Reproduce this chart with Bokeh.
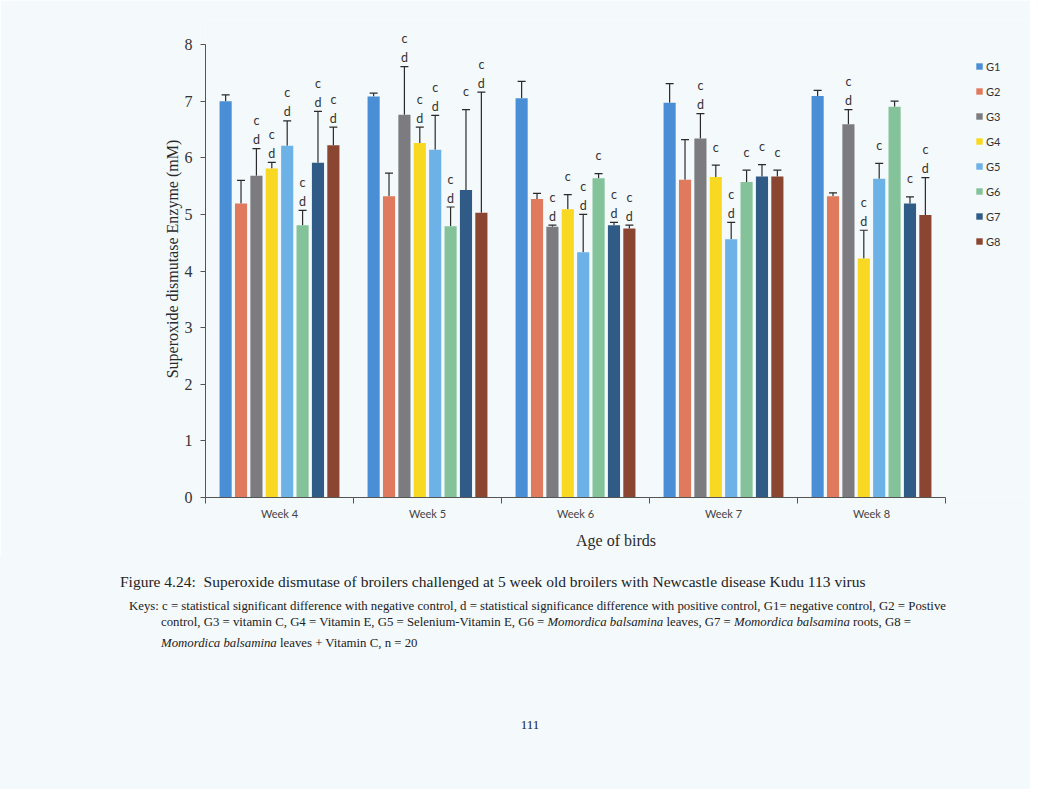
from bokeh.plotting import figure
from bokeh.layouts import column
from bokeh.models import (ColumnDataSource, Whisker, TeeHead, FixedTicker, Range1d,
                          Legend, LegendItem, Div)
from bokeh.core.properties import value
from bokeh.embed import file_html
from bokeh.resources import INLINE

# ---------------- data ----------------
weeks = ["Week 4", "Week 5", "Week 6", "Week 7", "Week 8"]
groups = ["G1", "G2", "G3", "G4", "G5", "G6", "G7", "G8"]
colors = ["#4a8fd6", "#e07a5e", "#7c7c80", "#f8d820", "#6cb2e6", "#84c39a", "#2f5b86", "#8a4630"]

g1_vals = [7.00, 7.08, 7.05, 6.97, 7.09]
g2_vals = [5.19, 5.32, 5.27, 5.61, 5.32]
g3_vals = [5.68, 6.76, 4.78, 6.34, 6.59]
g4_vals = [5.81, 6.26, 5.09, 5.66, 4.22]
g5_vals = [6.21, 6.14, 4.33, 4.56, 5.63]
g6_vals = [4.81, 4.79, 5.64, 5.57, 6.90]
g7_vals = [5.91, 5.43, 4.81, 5.67, 5.19]
g8_vals = [6.22, 5.03, 4.75, 5.67, 4.99]

g1_err = [0.11, 0.06, 0.30, 0.34, 0.10]
g2_err = [0.41, 0.41, 0.10, 0.71, 0.06]
g3_err = [0.48, 0.85, 0.03, 0.44, 0.26]
g4_err = [0.11, 0.28, 0.26, 0.21, 0.50]
g5_err = [0.44, 0.61, 0.67, 0.30, 0.27]
g6_err = [0.26, 0.34, 0.08, 0.21, 0.10]
g7_err = [0.91, 1.42, 0.05, 0.21, 0.12]
g8_err = [0.32, 2.13, 0.06, 0.11, 0.66]

g1_sig = ["", "", "", "", ""]
g2_sig = ["", "", "", "", ""]
g3_sig = ["cd", "cd", "cd", "cd", "cd"]
g4_sig = ["cd", "cd", "c", "c", "cd"]
g5_sig = ["cd", "cd", "cd", "cd", "c"]
g6_sig = ["cd", "cd", "c", "c", ""]
g7_sig = ["cd", "c", "cd", "c", "c"]
g8_sig = ["cd", "cd", "cd", "c", "cd"]

y_ticks = [0, 1, 2, 3, 4, 5, 6, 7, 8]
y_max = 8

all_vals = [g1_vals, g2_vals, g3_vals, g4_vals, g5_vals, g6_vals, g7_vals, g8_vals]
all_err = [g1_err, g2_err, g3_err, g4_err, g5_err, g6_err, g7_err, g8_err]
all_sig = [g1_sig, g2_sig, g3_sig, g4_sig, g5_sig, g6_sig, g7_sig, g8_sig]

# ---------------- main figure ----------------
BG = "#f4f9fb"
PX_PER_CAT = 148.0
PX_PER_UNIT = 453.0 / 8
FRAME_W = 825
FRAME_H = 477
x_end = -0.5 + FRAME_W / PX_PER_CAT
y_end = FRAME_H / PX_PER_UNIT

p = figure(width=1030, height=557, frame_width=FRAME_W, frame_height=FRAME_H,
           min_border_left=205, min_border_right=0, min_border_top=20, min_border_bottom=60,
           x_range=Range1d(-0.5, x_end), y_range=Range1d(0, y_end),
           output_backend="svg", toolbar_location=None,
           background_fill_color=BG, border_fill_color=BG)
p.outline_line_color = None
p.grid.visible = False

pitch = 0.104
bar_w = 0.082
n = len(groups)

legend_items = []
c_cd = dict(x=[], y=[])
c_only = dict(x=[], y=[])
d_cd = dict(x=[], y=[])
for gi, g in enumerate(groups):
    xs = [wi + (gi - (n - 1) / 2) * pitch for wi in range(len(weeks))]
    tops = all_vals[gi]
    uppers = [v + e for v, e in zip(all_vals[gi], all_err[gi])]
    src = ColumnDataSource(dict(x=xs, top=tops, upper=uppers))
    r = p.vbar(x="x", top="top", width=bar_w, bottom=0, source=src,
               fill_color=colors[gi], line_color=None)
    legend_items.append(LegendItem(label=g, renderers=[r]))
    w = Whisker(base="x", lower="top", upper="upper", source=src, dimension="height",
                line_color="#2a2a2a", line_width=1.2,
                upper_head=TeeHead(size=8, line_color="#2a2a2a", line_width=1.2),
                lower_head=None)
    p.add_layout(w)
    for x, u, s in zip(xs, uppers, all_sig[gi]):
        if s == "cd":
            c_cd["x"].append(x); c_cd["y"].append(u)
            d_cd["x"].append(x); d_cd["y"].append(u)
        elif s == "c":
            c_only["x"].append(x); c_only["y"].append(u)

txt_kw = dict(text_font=value("Lato"), text_font_size="12.5px", text_color="#333333",
              text_align="center", text_baseline="middle")
p.text(x="x", y="y", text=value("c"), source=ColumnDataSource(c_cd), y_offset=-28, **txt_kw)
p.text(x="x", y="y", text=value("d"), source=ColumnDataSource(d_cd), y_offset=-9, **txt_kw)
p.text(x="x", y="y", text=value("c"), source=ColumnDataSource(c_only), y_offset=-18, **txt_kw)

# ---------------- axes ----------------
xa = p.xaxis[0]
xa.bounds = (-0.5, len(weeks) - 0.5)
xa.ticker = FixedTicker(ticks=list(range(len(weeks))),
                        minor_ticks=[i - 0.5 for i in range(len(weeks) + 1)])
xa.major_label_overrides = {i: w for i, w in enumerate(weeks)}
xa.major_tick_line_color = None
xa.major_tick_in = 0
xa.major_tick_out = 0
xa.minor_tick_in = 0
xa.minor_tick_out = 6
xa.minor_tick_line_color = "#555555"
xa.axis_line_color = "#555555"
xa.major_label_text_font = "Lato"
xa.major_label_text_font_size = "11px"
xa.major_label_text_color = "#444444"
xa.major_label_standoff = 3
xa.axis_label = "Age  of birds"
xa.axis_label_text_font = "Liberation Serif"
xa.axis_label_text_font_style = "normal"
xa.axis_label_text_font_size = "16px"
xa.axis_label_text_color = "#2a2a2a"
xa.axis_label_standoff = 9

ya = p.yaxis[0]
ya.bounds = (0, y_max)
ya.ticker = FixedTicker(ticks=y_ticks)
ya.minor_tick_line_color = None
ya.major_tick_in = 0
ya.major_tick_out = 5
ya.major_tick_line_color = "#555555"
ya.axis_line_color = "#555555"
ya.major_label_text_font = "Liberation Serif"
ya.major_label_text_font_size = "16px"
ya.major_label_text_color = "#333333"
ya.major_label_standoff = 8
ya.axis_label = "Superoxide dismutase Enzyme (mM)"
ya.axis_label_text_font = "Liberation Serif"
ya.axis_label_text_font_style = "normal"
ya.axis_label_text_font_size = "16px"
ya.axis_label_text_color = "#2a2a2a"
ya.axis_label_standoff = 1

# ---------------- legend (inside the widened frame) ----------------
legend = Legend(items=legend_items, location=(770, 246), orientation="vertical",
                glyph_width=8, glyph_height=8, label_height=20, spacing=5,
                padding=0, margin=0, label_standoff=3,
                label_text_font="Lato", label_text_font_size="11px", label_text_color="#333333",
                background_fill_alpha=0, border_line_color=None)
p.add_layout(legend)

# ---------------- caption (HTML block under the chart) ----------------
caption_title = "Figure 4.24:&nbsp; Superoxide dismutase of broilers challenged at 5 week old broilers with Newcastle disease Kudu 113 virus"
keys_1 = ("Keys: c = statistical significant difference with negative control, d = statistical significance "
          "difference with positive control, G1= negative control, G2 = Postive")
keys_2 = ("control, G3 = vitamin C, G4 = Vitamin E, G5 = Selenium-Vitamin E, G6 = <i>Momordica balsamina</i> "
          "leaves, G7 = <i>Momordica balsamina</i> roots, G8 =")
keys_3 = "<i>Momordica balsamina</i> leaves + Vitamin C, n = 20"
page_no = "111"

line = ("position:absolute; white-space:nowrap; font-family:'Liberation Serif', serif; "
        "color:#222222;")
html = (
    f"<div style=\"position:relative; width:1030px; height:232px; background:{BG};\">"
    f"<div style=\"{line} left:120px; top:16px; font-size:15.5px; line-height:18px;\">{caption_title}</div>"
    f"<div style=\"{line} left:129px; top:41px; font-size:12.8px; line-height:16px;\">{keys_1}</div>"
    f"<div style=\"{line} left:161px; top:57px; font-size:12.8px; line-height:16px;\">{keys_2}</div>"
    f"<div style=\"{line} left:161px; top:78px; font-size:12.8px; line-height:16px;\">{keys_3}</div>"
    f"<div style=\"{line} left:500px; width:60px; text-align:center; top:160px; font-size:13px; line-height:16px;\">{page_no}</div>"
    "</div>"
)
cap = Div(text=html, width=1030, height=232, styles={"margin": "0", "padding": "0"})

layout = column(p, cap)
open("out.html", "w").write(file_html(layout, INLINE))
